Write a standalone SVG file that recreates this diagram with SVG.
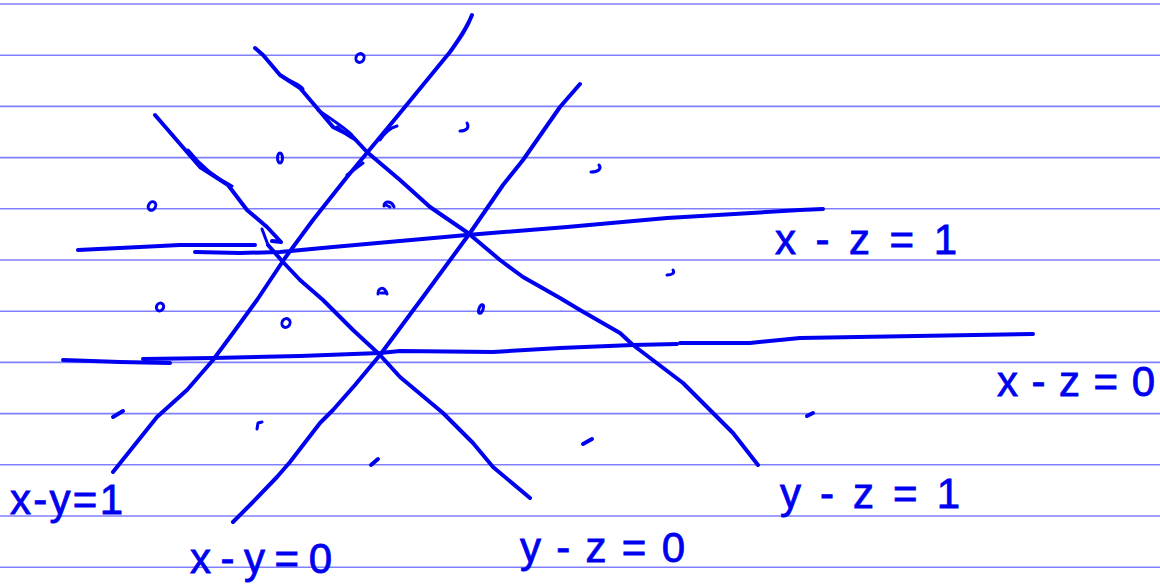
<svg xmlns="http://www.w3.org/2000/svg" width="1160" height="584" viewBox="0 0 1160 584">
<style>
.rule{stroke:#7f7fff;stroke-width:1.6;fill:none}
.ink{stroke:#0000f0;stroke-width:4;fill:none;stroke-linecap:round;stroke-linejoin:round}
.thin{stroke:#0000f0;stroke-width:3;fill:none;stroke-linecap:round;stroke-linejoin:round}
.lbl{font-family:"Liberation Sans",Arial,sans-serif;fill:#0000f0;stroke:#0000f0;stroke-width:0.8;font-size:42px}
</style>
<rect width="1160" height="584" fill="#ffffff"/>
<g id="rules">
<line class="rule" x1="0" y1="4" x2="1160" y2="4"/>
<line class="rule" x1="0" y1="55.2" x2="1160" y2="55.2"/>
<line class="rule" x1="0" y1="106.4" x2="1160" y2="106.4"/>
<line class="rule" x1="0" y1="157.6" x2="1160" y2="157.6"/>
<line class="rule" x1="0" y1="208.8" x2="1160" y2="208.8"/>
<line class="rule" x1="0" y1="260" x2="1160" y2="260"/>
<line class="rule" x1="0" y1="311.2" x2="1160" y2="311.2"/>
<line class="rule" x1="0" y1="362.4" x2="1160" y2="362.4"/>
<line class="rule" x1="0" y1="413.6" x2="1160" y2="413.6"/>
<line class="rule" x1="0" y1="464.8" x2="1160" y2="464.8"/>
<line class="rule" x1="0" y1="516" x2="1160" y2="516"/>
<line class="rule" x1="0" y1="567.2" x2="1160" y2="567.2"/>
</g>
<g id="lines">
<path id="xy1" class="ink" d="M113,472 L133,447 L157,417 L187,390 L213,360 L233,333 L257,300 L285,258 L313,220 L347,177 L400,113 L450,52 C460,38 467,28 472,15"/>
<path class="thin" d="M347,175 L363,163 M380,140 C385,132 390,128 397,126"/>
<path id="xy0" class="ink" d="M233,522 L250,505 L277,477 L290,462 L320,423 L333,410 L355,385 L380,355 L423,297 L470,233 L503,185 L523,160 L560,107 L580,84"/>
<path id="yz1" class="ink" d="M155,115 L187,152 L200,167 L228,185 L247,210 L267,227 L281,242 L272,241"/>
<path class="thin" d="M188,150 C200,165 215,178 232,186 M262,229 L268,245"/>
<path class="ink" d="M268,245 L283,262 L300,280 L323,300 L353,330 L380,355 L400,377 L443,413 L473,443 L493,467 L530,498"/>
<path id="yz0" class="ink" d="M255,48 L263,55 L280,75 L300,88 L317,108 L333,127 L353,137 L367,152 L400,180 L430,207 L468,233 L500,260 L523,277 L560,298 L580,310 L620,333 L633,345 L683,383 L733,433 L758,465"/>
<path class="thin" d="M282,76 C290,82 300,84 303,89 M318,110 C330,118 345,128 352,135 M337,127 C345,133 350,138 356,140"/>
<path id="xz1" class="ink" d="M78,250 L140,247 L180,245 L255,245"/>
<path class="ink" d="M195,252 L240,253 L280,252 L333,247 L400,241 L467,235 L567,227 L667,218 L800,210 L823,209"/>
<path id="xz0" class="ink" d="M63,360 L120,362 L170,363"/>
<path class="ink" d="M143,359 L213,358 L300,356 L380,353 L400,351 L493,352 L560,348 L633,345 L677,344"/>
<path class="ink" d="M680,343 L750,343 L800,338 L1033,334"/>
</g>
<g id="dots">
<ellipse class="thin" cx="360" cy="58" rx="4" ry="4.5" transform="rotate(30 360 58)"/>
<ellipse class="thin" cx="152" cy="206" rx="3.5" ry="4.5" transform="rotate(30 152 206)"/>
<ellipse class="thin" cx="280" cy="158" rx="2.5" ry="5"/>
<path class="thin" d="M460,131 C466,131 470,128 467,123"/>
<path class="thin" d="M591,172 C598,172 602,169 599,165"/>
<path class="thin" d="M384,206 C384,200 392,201 394,207 M386,205 L390,207"/>
<path class="thin" d="M667,275 C672,275 675,273 673,270"/>
<ellipse class="thin" cx="160" cy="307" rx="3.5" ry="4" transform="rotate(30 160 307)"/>
<path class="thin" d="M378,294 C378,288 384,285 387,294 M381,293 L386,293"/>
<ellipse class="thin" cx="481" cy="309" rx="2" ry="4.5" transform="rotate(20 481 309)"/>
<ellipse class="thin" cx="286" cy="323" rx="4" ry="4.5" transform="rotate(30 286 323)"/>
<path class="ink" d="M113,417 L123,411"/>
<path class="thin" d="M257,429 L258,423 L262,422"/>
<path class="ink" d="M371,465 L378,459"/>
<path class="ink" d="M583,444 L592,439"/>
<path class="ink" d="M807,416 L813,413"/>
</g>
<g id="labels">
<text class="lbl" x="775" y="254" textLength="182" lengthAdjust="spacing">x-z=1</text>
<text class="lbl" x="997" y="396" textLength="158" lengthAdjust="spacing">x-z=0</text>
<text class="lbl" x="780" y="508" textLength="180" lengthAdjust="spacing">y-z=1</text>
<text class="lbl" x="520" y="562" textLength="165" lengthAdjust="spacing">y-z=0</text>
<text class="lbl" x="10" y="514" font-size="40" textLength="113" lengthAdjust="spacing">x-y=1</text>
<text class="lbl" x="190" y="573" font-size="38" textLength="142" lengthAdjust="spacing">x-y=0</text>
</g>
</svg>
